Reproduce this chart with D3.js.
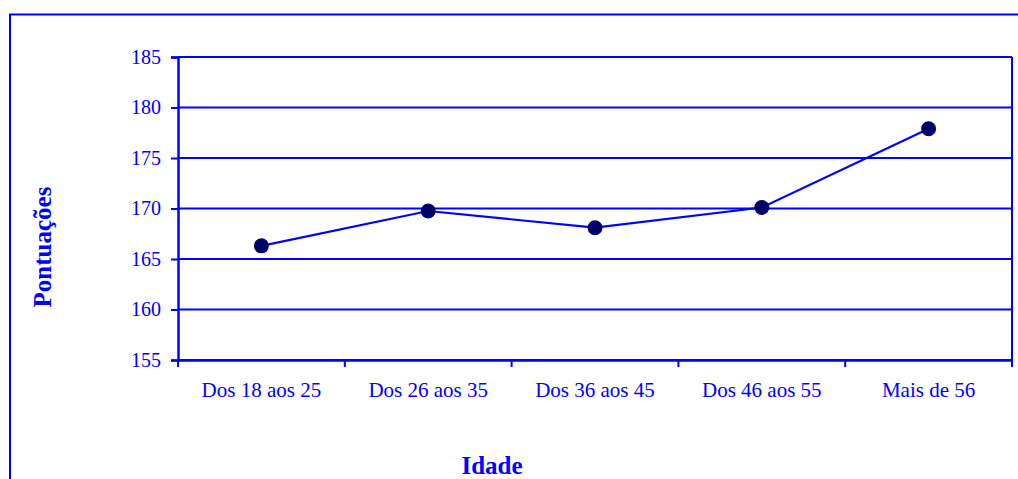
<!DOCTYPE html>
<html><head><meta charset="utf-8">
<script src="https://cdn.jsdelivr.net/npm/d3@7"></script>
<style>html,body{margin:0;padding:0;background:#fff;overflow:hidden}</style>
</head><body>
<script>
const categories = ["Dos 18 aos 25","Dos 26 aos 35","Dos 36 aos 45","Dos 46 aos 55","Mais de 56"];
const values = [166.3, 169.75, 168.1, 170.1, 177.9];
const yTicks = [155,160,165,170,175,180,185];
const xTitle = "Idade";
const yTitle = "Pontuações";

const W = 1018, H = 479;
const blue = "#0000FF", navy = "#000066";
const font = "'Liberation Serif','Times New Roman',serif";
const svg = d3.select("body").append("svg").attr("width", W).attr("height", H);

// outer chart border (extends past right/bottom edges)
svg.append("rect").attr("x",10).attr("y",14.5).attr("width",W+20).attr("height",H+20)
  .attr("fill","none").attr("stroke",blue).attr("stroke-width",2);

const L = 178, R = 1012, T = 57, B = 360;
const x = d3.scaleBand().domain(categories).range([L,R]);
const y = d3.scaleLinear().domain([155,185]).range([B,T]);

// gridlines
svg.append("g").selectAll("line").data(yTicks).join("line")
  .attr("x1",L).attr("x2",R).attr("y1",d=>y(d)).attr("y2",d=>y(d))
  .attr("stroke",blue).attr("stroke-width",2);

// right border of plot
svg.append("line").attr("x1",R).attr("x2",R).attr("y1",T).attr("y2",B)
  .attr("stroke",blue).attr("stroke-width",2);

// y axis
const yAxis = svg.append("g").attr("transform",`translate(${L},0)`)
  .call(d3.axisLeft(y).tickValues(yTicks).tickSize(7).tickPadding(10).tickFormat(d3.format("d")));
yAxis.select(".domain").attr("stroke",blue).attr("stroke-width",2.5);
yAxis.selectAll(".tick line").attr("stroke",blue).attr("stroke-width",2);
yAxis.selectAll("text").attr("fill",blue).style("font-family",font).style("font-size","20px");

// x axis
const xAxis = svg.append("g").attr("transform",`translate(0,${B})`)
  .call(d3.axisBottom(x).tickSize(0).tickPadding(22));
xAxis.select(".domain").attr("stroke",blue).attr("stroke-width",2.5);
xAxis.selectAll("text").attr("fill",blue).style("font-family",font).style("font-size","21px");
// x tick marks at band boundaries
const bounds = categories.map(c=>x(c)).concat([R]);
svg.append("g").selectAll("line").data(bounds).join("line")
  .attr("x1",d=>d).attr("x2",d=>d).attr("y1",B).attr("y2",B+7)
  .attr("stroke",blue).attr("stroke-width",2);

// data line
const cx = (d,i)=>x(categories[i])+x.bandwidth()/2;
svg.append("path").datum(values)
  .attr("d", d3.line().x(cx).y(d=>y(d)))
  .attr("fill","none").attr("stroke",blue).attr("stroke-width",2.2);
svg.append("g").selectAll("circle").data(values).join("circle")
  .attr("cx",cx).attr("cy",d=>y(d)).attr("r",7.5).attr("fill",navy);

// titles
svg.append("text").attr("x",492).attr("y",474).attr("text-anchor","middle")
  .attr("fill",blue).style("font-family",font).style("font-weight","bold").style("font-size","25px")
  .text(xTitle);
svg.append("text").attr("transform","translate(51,247) rotate(-90)").attr("text-anchor","middle")
  .attr("fill",blue).style("font-family",font).style("font-weight","bold").style("font-size","25px")
  .text(yTitle);
</script>
</body></html>
